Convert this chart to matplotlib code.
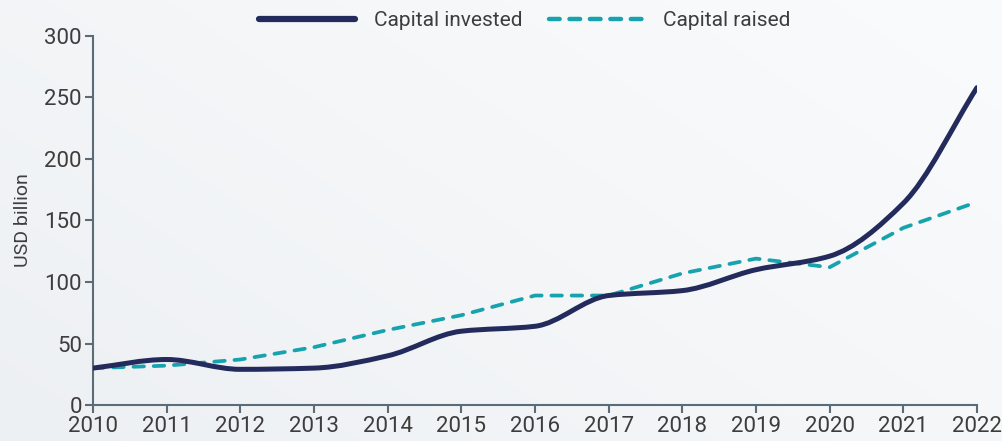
import matplotlib.pyplot as plt
import numpy as np
from matplotlib.path import Path
from matplotlib.patches import PathPatch
from matplotlib.lines import Line2D
from matplotlib.colors import LinearSegmentedColormap

plt.rcParams['font.family'] = ['Roboto', 'DejaVu Sans']

years = [2010, 2011, 2012, 2013, 2014, 2015, 2016, 2017, 2018, 2019, 2020, 2021, 2022]
capital_invested = [30, 37, 29, 30, 40, 60, 64, 89, 93, 110, 121, 164, 258]
capital_raised = [30, 32, 37, 47, 61, 73, 89, 89, 107, 119, 112, 144, 165]

navy = '#232b5c'
teal = '#17a3ae'
grey = '#3d3d3d'
spine = '#5b6b78'


def smooth_path(x, y):
    # monotone cubic bezier through the data points
    x = np.asarray(x, float)
    y = np.asarray(y, float)
    h = np.diff(x)
    d = np.diff(y) / h
    m = np.zeros_like(y)
    m[0], m[-1] = d[0], d[-1]
    for i in range(1, len(y) - 1):
        if d[i - 1] * d[i] > 0:
            m[i] = 2 / (1 / d[i - 1] + 1 / d[i])
    verts = [(x[0], y[0])]
    codes = [Path.MOVETO]
    for i in range(len(x) - 1):
        verts += [(x[i] + h[i] / 3, y[i] + m[i] * h[i] / 3),
                  (x[i + 1] - h[i] / 3, y[i + 1] - m[i + 1] * h[i] / 3),
                  (x[i + 1], y[i + 1])]
        codes += [Path.CURVE4] * 3
    return Path(verts, codes)


fig = plt.figure(figsize=(10.02, 4.41), dpi=100, facecolor='#f3f5f7')

# soft background gradient
bg = fig.add_axes([0, 0, 1, 1], zorder=-1)
bg_cmap = LinearSegmentedColormap.from_list('bg', ['#edf0f3', '#f4f6f8', '#fafbfc'])
grad = np.linspace(0, 1, 256)
bg.imshow(np.add.outer(grad[::-1] * 0.4, grad * 0.6), cmap=bg_cmap, aspect='auto',
          extent=[0, 1, 0, 1])
bg.axis('off')

ax = fig.add_axes([0.0928, 0.0816, 0.8822, 0.8368])
ax.set_facecolor('none')

patch = PathPatch(smooth_path(years, capital_invested), fill=False,
                  edgecolor=navy, lw=3.6, capstyle='round', joinstyle='round', zorder=3)
ax.add_patch(patch)
ax.plot(years, capital_raised, color=teal, lw=2.7, linestyle=(0, (2.8, 2.6)),
        dash_capstyle='round', zorder=2)

ax.set_xlim(2010, 2022)
ax.set_ylim(0, 300)
ax.set_xticks(years)
ax.set_yticks(range(0, 301, 50))
ax.tick_params(axis='both', colors=spine, labelcolor=grey, labelsize=16,
               length=6, width=1.5, direction='out', pad=2)
for s in ['top', 'right']:
    ax.spines[s].set_visible(False)
for s in ['left', 'bottom']:
    ax.spines[s].set_color(spine)
    ax.spines[s].set_linewidth(1.5)
ax.set_ylabel('USD billion', fontsize=14, color=grey, labelpad=9)

handles = [Line2D([], [], color=navy, lw=4.5, solid_capstyle='round'),
           Line2D([], [], color=teal, lw=3.2, linestyle=(0, (2.4, 2.2)), dash_capstyle='round')]
fig.legend(handles, ['Capital invested', 'Capital raised'], loc='center',
           bbox_to_anchor=(0.524, 0.953), ncol=2, frameon=False, fontsize=15,
           handlelength=4.6, columnspacing=1.27, handletextpad=0.9, labelcolor=grey)

fig.savefig('out.png', dpi=100, facecolor=fig.get_facecolor())
